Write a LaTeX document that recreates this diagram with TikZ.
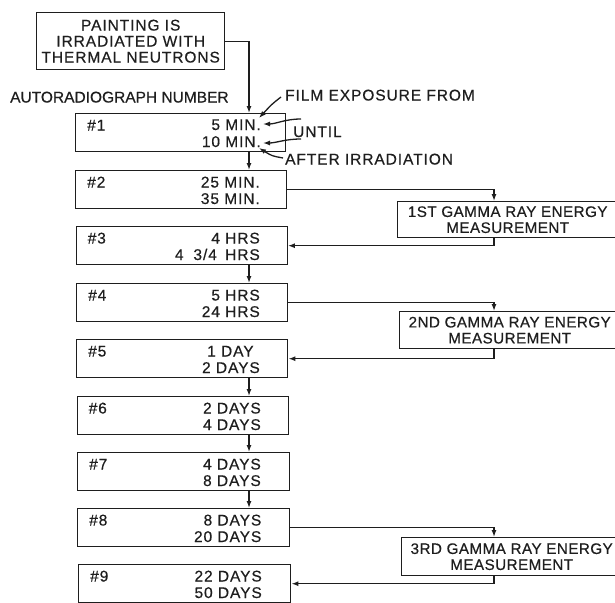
\documentclass[tikz,border=0pt]{standalone}
\usepackage{fontspec}
\setmainfont{Liberation Sans}
\newfontfamily\lett[LetterSpace=6,FakeBold=0.5]{Liberation Sans}
\newfontfamily\lettg[LetterSpace=3,FakeBold=0.5]{Liberation Sans}
\newfontfamily\lettn[FakeBold=0.5]{Liberation Sans}
\usetikzlibrary{arrows.meta}
\definecolor{ink}{RGB}{30,30,30}
\begin{document}
\begin{tikzpicture}[x=1pt,y=-1pt,
  txt/.style={text=ink, inner sep=0pt, font=\lett\fontsize{15.5}{16}\selectfont},
  box/.style={draw=ink, line width=1.4pt, inner sep=0pt, anchor=north west, minimum height=38pt},
  gbox/.style={box, txt, font=\lettg\fontsize{15.2}{16}\selectfont, align=center, minimum width=220pt, minimum height=36pt},
  hash/.style={txt, anchor=base west},
  tm/.style={txt, anchor=base east},
  arr/.style={draw=ink, line width=1.3pt, -{Latex[length=7pt,width=5pt]}}]
\useasboundingbox (0,0) rectangle (615,602);
\clip (0,0) rectangle (615,602);

% top box
\node[box, txt, align=center, minimum width=188pt, minimum height=57pt] (top) at (36,12)
  {PAINTING IS\\IRRADIATED WITH\\THERMAL NEUTRONS};
\node[txt, font=\lettn\fontsize{15.5}{16}\selectfont, anchor=base west] (autor) at (10,102.5) {AUTORADIOGRAPH NUMBER};

% autoradiograph boxes
\node[box, minimum width=210pt] (b1) at (75,113) {};
\node[box, minimum width=211pt] (b2) at (75,170) {};
\node[box, minimum width=211pt] (b3) at (75.5,226) {};
\node[box, minimum width=211pt] (b4) at (76,283) {};
\node[box, minimum width=211pt] (b5) at (76,339) {};
\node[box, minimum width=211.5pt] (b6) at (76.5,396) {};
\node[box, minimum width=212pt] (b7) at (77,452) {};
\node[box, minimum width=212pt] (b8) at (77,508) {};
\node[box, minimum width=212pt] (b9) at (78,564) {};

% labels in boxes
\node[hash] (h1) at (87,130.5) {\#1};
\node[tm] (t1a) at (261,130) {5 MIN.};
\node[tm] (t1b) at (261,147) {10 MIN.};
\node[hash] (h2) at (87,187.5) {\#2};
\node[tm] (t2a) at (260,187.5) {25 MIN.};
\node[tm] (t2b) at (260,204) {35 MIN.};
\node[hash] (h3) at (87.5,243.5) {\#3};
\node[tm] (t3a) at (260,243.5) {4 HRS};
\node[tm] (t3b) at (260,260) {4\hspace{0.3em} 3/4\hspace{0.2em} HRS};
\node[hash] (h4) at (88,300.5) {\#4};
\node[tm] (t4a) at (260,300.5) {5 HRS};
\node[tm] (t4b) at (260,317) {24 HRS};
\node[hash] (h5) at (88,356.5) {\#5};
\node[txt, anchor=base west] (t5a) at (207,356.5) {1 DAY};
\node[tm] (t5b) at (260,373) {2 DAYS};
\node[hash] (h6) at (88.5,413.5) {\#6};
\node[tm] (t6a) at (261,413.5) {2 DAYS};
\node[tm] (t6b) at (261,430) {4 DAYS};
\node[hash] (h7) at (89,469.5) {\#7};
\node[tm] (t7a) at (261,469.5) {4 DAYS};
\node[tm] (t7b) at (261,486) {8 DAYS};
\node[hash] (h8) at (89,525.5) {\#8};
\node[tm] (t8a) at (261.5,525.5) {8 DAYS};
\node[tm] (t8b) at (261.5,542) {20 DAYS};
\node[hash] (h9) at (90,581.5) {\#9};
\node[tm] (t9a) at (262,581.5) {22 DAYS};
\node[tm] (t9b) at (262,598) {50 DAYS};

% gamma boxes
\node[gbox] (g1) at (397,201) {1ST GAMMA RAY ENERGY\\MEASUREMENT};
\node[gbox, minimum height=37pt] (g2) at (399,311) {2ND GAMMA RAY ENERGY\\MEASUREMENT};
\node[gbox, minimum height=38pt] (g3) at (401,537) {3RD GAMMA RAY ENERGY\\MEASUREMENT};

% annotations
\node[txt, anchor=base west] (film) at (285,100.5) {FILM EXPOSURE FROM};
\node[txt, anchor=base west] (until) at (293,137) {UNTIL};
\node[txt, anchor=base west] (after) at (285,164.5) {AFTER IRRADIATION};

% coordinates
\coordinate (xv) at (249,0);
\coordinate (xg) at (494,0);
\coordinate (fs) at (281,97);
\coordinate (ft) at (259,118);
\coordinate (u1s) at (301,119);
\coordinate (u1t) at (263,124);
\coordinate (u2s) at (301,139);
\coordinate (u2t) at (263,143);
\coordinate (as) at (283,158);
\coordinate (at) at (259,148);

% main flow
\draw[arr] (top.east) -| (xv |- b1.north);
\draw[arr] (xv |- b1.south) -- (xv |- b2.north);
\draw[arr] (xv |- b3.south) -- (xv |- b4.north);
\draw[arr] (xv |- b5.south) -- (xv |- b6.north);
\draw[arr] (xv |- b6.south) -- (xv |- b7.north);
\draw[arr] (xv |- b7.south) -- (xv |- b8.north);

% gamma loops
\draw[arr] (b2.east) -| (xg |- g1.north);
\draw[arr] (xg |- g1.south) |- (b3.east);
\draw[arr] (b4.east) -| (xg |- g2.north);
\draw[arr] (xg |- g2.south) |- (b5.east);
\draw[arr] (b8.east) -| (xg |- g3.north);
\draw[arr] (xg |- g3.south) |- (b9.east);

% annotation arrows
\draw[arr] (fs) .. controls (272,104) .. (ft);
\draw[arr] (u1s) .. controls (285,119) and (276,124) .. (u1t);
\draw[arr] (u2s) .. controls (285,139) and (276,143) .. (u2t);
\draw[arr] (as) .. controls (272,156) .. (at);
\end{tikzpicture}
\end{document}
